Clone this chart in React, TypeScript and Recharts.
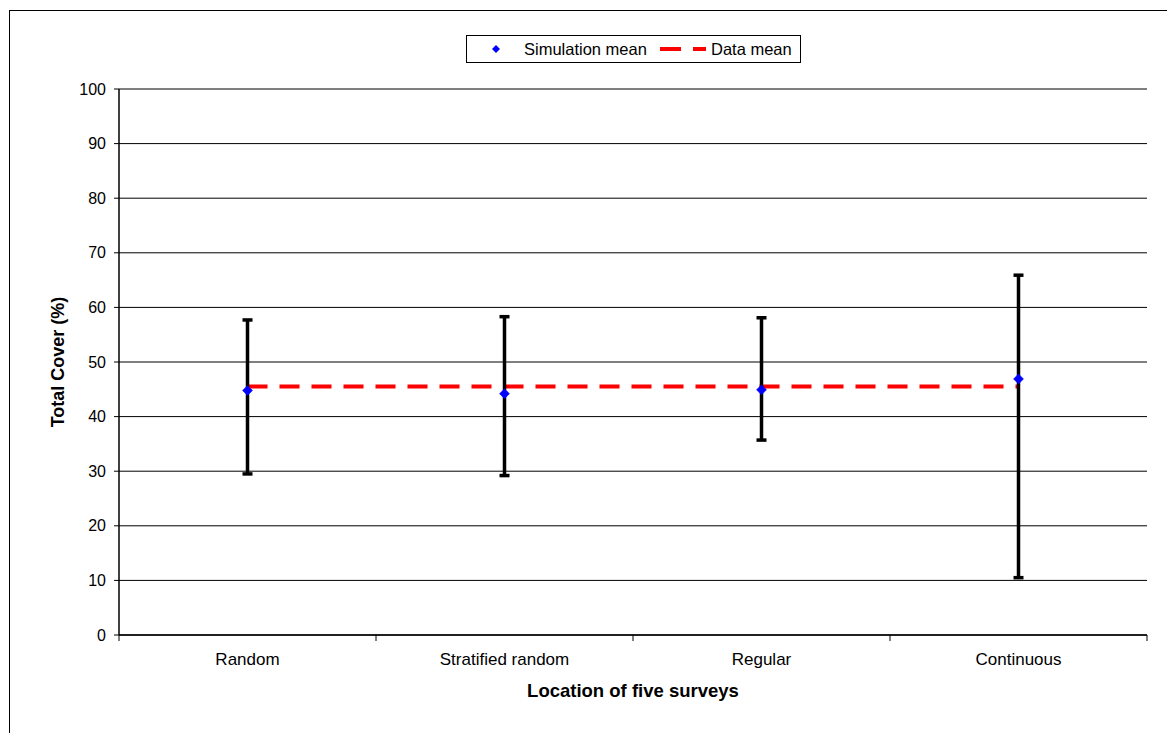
import React from 'react';
import { ComposedChart, Line, XAxis, YAxis, CartesianGrid, ErrorBar } from 'recharts';

const categories = ['Random', 'Stratified random', 'Regular', 'Continuous'];
const simMean = [44.8, 44.2, 44.9, 46.9];
const simLow = [29.5, 29.2, 35.7, 10.5];
const simHigh = [57.7, 58.3, 58.1, 65.9];
const dataMean = [45.5, 45.5, 45.5, 45.5];
const yTicks = [0, 10, 20, 30, 40, 50, 60, 70, 80, 90, 100];

const data = categories.map((c, i) => ({
  cat: c,
  sim: simMean[i],
  err: [simMean[i] - simLow[i], simHigh[i] - simMean[i]],
  dm: dataMean[i],
}));

const FONT = '"Liberation Sans", Arial, sans-serif';

const XTick = (props: any) => {
  const { x, y, payload, index } = props;
  const off = payload && payload.offset ? payload.offset : 0;
  return (
    <g>
      <line x1={x - off} y1={y} x2={x - off} y2={y + 6} stroke="#000" strokeWidth={1} />
      {index === categories.length - 1 && (
        <line x1={x + off} y1={y} x2={x + off} y2={y + 6} stroke="#000" strokeWidth={1} />
      )}
      <text x={x} y={y + 30} textAnchor="middle" fontSize={17} fontFamily={FONT} fill="#000">
        {payload.value}
      </text>
    </g>
  );
};

const Diamond = (props: any) => {
  const { cx, cy, index } = props;
  if (cx == null || cy == null) return <g key={`d${index}`} />;
  const r = 5;
  return (
    <polygon
      key={`d${index}`}
      points={`${cx},${cy - r} ${cx + r},${cy} ${cx},${cy + r} ${cx - r},${cy}`}
      fill="#0000FF"
      stroke="#0000FF"
      strokeWidth={0.5}
    />
  );
};

const YTitle = (props: any) => {
  const vb = props.viewBox || {};
  const x = (vb.x ?? 59) - 1;
  const y = (vb.y ?? 89) + (vb.height ?? 546) / 2;
  return (
    <text
      x={x}
      y={y}
      transform={`rotate(-90, ${x}, ${y})`}
      textAnchor="middle"
      dominantBaseline="central"
      fontSize={18}
      fontWeight="bold"
      fontFamily={FONT}
      fill="#000"
    >
      Total Cover (%)
    </text>
  );
};

const XTitle = (props: any) => {
  const vb = props.viewBox || {};
  const x = (vb.x ?? 119) + (vb.width ?? 1028) / 2;
  const y = (vb.y ?? 635) + 62;
  return (
    <text x={x} y={y} textAnchor="middle" fontSize={18.5} fontWeight="bold" fontFamily={FONT} fill="#000">
      Location of five surveys
    </text>
  );
};

export default function App() {
  return (
    <div
      style={{
        position: 'absolute',
        left: 0,
        top: 0,
        width: 1167,
        height: 733,
        overflow: 'hidden',
        background: '#fff',
        fontFamily: FONT,
      }}
    >
      <div
        style={{
          position: 'absolute',
          left: 9,
          top: 10,
          width: 1300,
          height: 900,
          border: '1px solid #000',
        }}
      />
      <div style={{ position: 'absolute', left: 0, top: 0 }}>
        <ComposedChart
          width={1167}
          height={733}
          data={data}
          margin={{ top: 89, right: 20, bottom: 0, left: 59 }}
        >
          <CartesianGrid vertical={false} stroke="#000" strokeWidth={1} />
          <XAxis
            dataKey="cat"
            scale="band"
            tickSize={0}
            tickMargin={0}
            tickLine={false}
            height={98}
            axisLine={{ stroke: '#000', strokeWidth: 1.5 }}
            tick={<XTick />}
            interval={0}
            label={{ content: <XTitle /> } as any}
          />
          <YAxis
            domain={[0, 100]}
            ticks={yTicks}
            width={60}
            tickSize={5}
            tickMargin={8}
            axisLine={{ stroke: '#000', strokeWidth: 1.5 }}
            tickLine={{ stroke: '#000' }}
            tick={{ fill: '#000', fontSize: 16, fontFamily: FONT }}
            allowDataOverflow
            label={{ content: <YTitle /> } as any}
          />
          <YAxis
            yAxisId="right"
            orientation="right"
            domain={[0, 100]}
            width={0}
            tick={false}
            tickLine={false}
            axisLine={{ stroke: '#808080', strokeWidth: 2 }}
          />
          <Line
            dataKey="dm"
            stroke="#FF0000"
            strokeWidth={4}
            strokeDasharray="20 12"
            dot={false}
            activeDot={false}
            isAnimationActive={false}
          />
          <Line
            dataKey="sim"
            stroke="none"
            dot={<Diamond />}
            activeDot={false}
            isAnimationActive={false}
          >
            <ErrorBar dataKey="err" direction="y" width={5} strokeWidth={3.5} stroke="#000" />
          </Line>
        </ComposedChart>
      </div>
      <div
        style={{
          position: 'absolute',
          left: 466,
          top: 35,
          width: 333,
          height: 26,
          border: '1px solid #000',
          background: '#fff',
        }}
      >
        <svg width={333} height={26} style={{ position: 'absolute', left: 0, top: 0 }}>
          <polygon points="29,9 33,13 29,17 25,13" fill="#0000FF" />
          <line x1={193} y1={13} x2={214} y2={13} stroke="#FF0000" strokeWidth={4} />
          <line x1={226} y1={13} x2={239} y2={13} stroke="#FF0000" strokeWidth={4} />
          <text x={57} y={19} fontSize={16.5} fontFamily={FONT} fill="#000">
            Simulation mean
          </text>
          <text x={244} y={19} fontSize={16.5} fontFamily={FONT} fill="#000">
            Data mean
          </text>
        </svg>
      </div>
    </div>
  );
}
